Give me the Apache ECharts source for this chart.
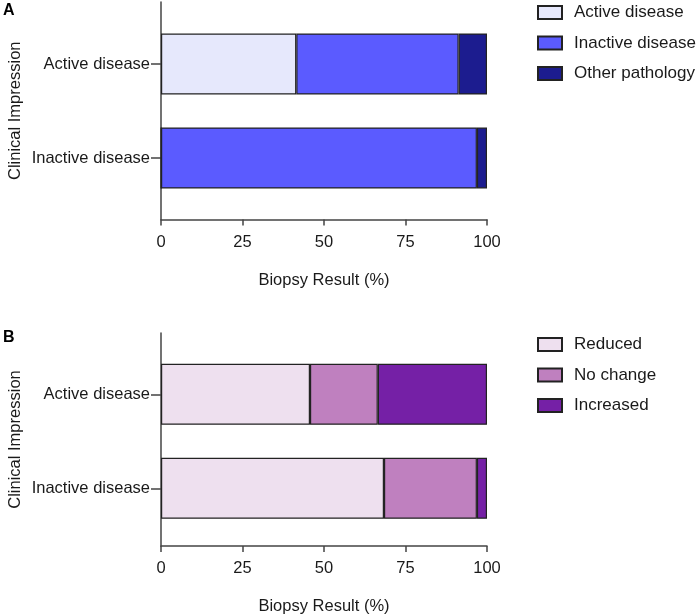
<!DOCTYPE html>
<html>
<head>
<meta charset="utf-8">
<script src="https://cdn.jsdelivr.net/npm/echarts@6/dist/echarts.min.js"></script>
<style>html,body{margin:0;padding:0;background:#fff}#c{width:700px;height:616px}</style>
</head>
<body>
<div id="c"></div>
<script>
const categories = ["Active disease", "Inactive disease"];
const xTicks = [0, 25, 50, 75, 100];

const seriesA = ["Active disease", "Inactive disease", "Other pathology"];
const activeA = [41.5, 0];
const inactiveA = [49.8, 96.9];
const otherA = [8.7, 3.1];

const seriesB = ["Reduced", "No change", "Increased"];
const reducedB = [45.7, 68.4];
const noChangeB = [20.8, 28.5];
const increasedB = [33.5, 3.1];

const colorsA = ["#E6E8FC", "#5B5BFF", "#1C1C8F"];
const colorsB = ["#EEE0EF", "#BF80BF", "#7520A6"];

const font = "'Liberation Sans', Arial, sans-serif";
const txt = "#1a1a1a";
const axisCol = "#444";

function axisGrid(top) { return { left: 161, top: top, width: 326, height: 217.5 }; }
function barGrid(top) { return { left: 161, top: top, width: 326, height: 188 }; }

const grids = [axisGrid(2), barGrid(17), axisGrid(333), barGrid(347.3)];

function visibleX(gi) {
  return {
    type: "value", gridIndex: gi, min: 0, max: 100, interval: 25,
    axisLine: { show: true, lineStyle: { color: axisCol, width: 1.5 } },
    axisTick: { show: true, length: 6, lineStyle: { color: axisCol, width: 1.5 } },
    axisLabel: { fontSize: 16.5, color: txt, fontFamily: font, margin: 14,
      formatter: v => xTicks.indexOf(v) >= 0 ? String(v) : "" },
    splitLine: { show: false },
    name: "Biopsy Result (%)", nameLocation: "middle", nameGap: 52,
    nameTextStyle: { fontSize: 16.5, color: txt, fontFamily: font }
  };
}
function hiddenX(gi) {
  return { type: "value", gridIndex: gi, min: 0, max: 100, show: false, splitLine: { show: false } };
}
function visibleY(gi) {
  return {
    type: "category", gridIndex: gi, data: [""],
    axisLine: { show: true, lineStyle: { color: axisCol, width: 1.5 } },
    axisTick: { show: false }, axisLabel: { show: false },
    name: "Clinical Impression", nameLocation: "middle", nameGap: 137,
    nameTextStyle: { fontSize: 16.5, color: txt, fontFamily: font }
  };
}
function labelY(gi) {
  return {
    type: "category", gridIndex: gi, data: categories, inverse: true,
    axisLine: { show: false },
    axisTick: { show: true, alignWithLabel: true, length: 10, lineStyle: { color: axisCol, width: 1.5 } },
    axisLabel: { fontSize: 16.5, color: txt, fontFamily: font, margin: 11 }
  };
}

function bar(name, data, color, idx, stack) {
  return {
    type: "bar", name: name, data: data, stack: stack,
    xAxisIndex: idx, yAxisIndex: idx, barWidth: 61,
    itemStyle: { color: color, borderColor: "#222", borderWidth: 1.2 },
    emphasis: { disabled: true }
  };
}

function legend(names, top) {
  return {
    orient: "vertical", left: 537, top: top, data: names, icon: "rect",
    itemWidth: 24, itemHeight: 13, itemGap: 13.5, padding: 0,
    textStyle: { fontSize: 17, color: txt, fontFamily: font, padding: [0, 0, 0, 7] },
    selectedMode: false
  };
}

const chart = echarts.init(document.getElementById("c"), null, { renderer: "canvas" });
chart.setOption({
  animation: false,
  backgroundColor: "#fff",
  title: [
    { text: "A", left: 3, top: 3, padding: 0, textStyle: { fontSize: 16, fontWeight: "bold", color: "#000", fontFamily: font } },
    { text: "B", left: 3, top: 330, padding: 0, textStyle: { fontSize: 16, fontWeight: "bold", color: "#000", fontFamily: font } }
  ],
  legend: [legend(seriesA, 4), legend(seriesB, 336)],
  grid: grids,
  xAxis: [visibleX(0), hiddenX(1), visibleX(2), hiddenX(3)],
  yAxis: [visibleY(0), labelY(1), visibleY(2), labelY(3)],
  series: [
    bar(seriesA[0], activeA, colorsA[0], 1, "a"),
    bar(seriesA[1], inactiveA, colorsA[1], 1, "a"),
    bar(seriesA[2], otherA, colorsA[2], 1, "a"),
    bar(seriesB[0], reducedB, colorsB[0], 3, "b"),
    bar(seriesB[1], noChangeB, colorsB[1], 3, "b"),
    bar(seriesB[2], increasedB, colorsB[2], 3, "b")
  ]
});
</script>
</body>
</html>
